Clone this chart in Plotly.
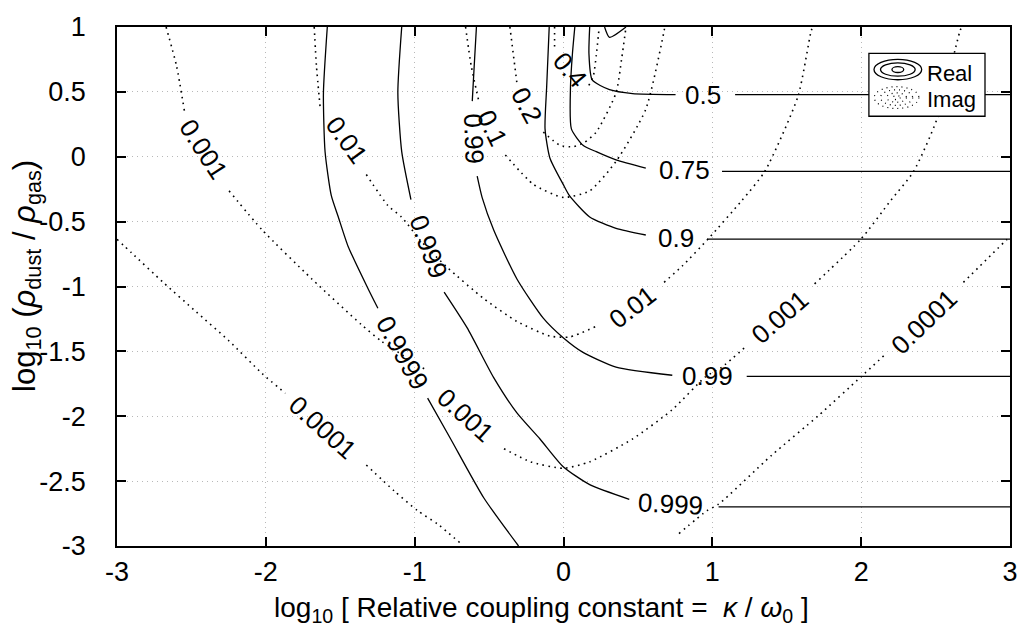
import plotly.graph_objects as go

# ---------------- data ----------------
# Real-part contours (solid)
re_levels = ["0.5", "0.75", "0.9", "0.99", "0.999", "0.9999"]
re_05_x = [0.176, 0.171, 0.193, 0.309, 0.464, 0.753, None, 1.153, 3.0, None, 0.276, 0.309, 0.42]
re_05_y = [1.0, 0.794, 0.592, 0.517, 0.487, 0.479, None, 0.479, 0.479, None, 1.0, 0.92, 1.0]
re_075_x = [0.076, 0.060, 0.047, 0.053, 0.131, 0.22, 0.353, 0.553, None, 1.065, 3.0]
re_075_y = [1.0, 0.794, 0.542, 0.215, 0.089, 0.039, -0.024, -0.087, None, -0.112, -0.112]
re_09_x = [-0.096, -0.113, -0.124, -0.091, -0.002, 0.04, 0.176, 0.353, 0.553, None, 0.964, 3.0]
re_09_y = [1.0, 0.542, 0.215, -0.011, -0.213, -0.3, -0.464, -0.552, -0.603, None, -0.635, -0.635]
re_099_x = [-0.585, -0.6, -0.613, None, -0.58, -0.547, -0.469, -0.313, -0.136, -0.002, 0.131, 0.353, 0.731, None, 1.231, 3.0]
re_099_y = [1.0, 0.7, 0.429, None, -0.150, -0.313, -0.565, -0.942, -1.244, -1.395, -1.508, -1.621, -1.684, None, -1.692, -1.692]
re_0999_x = [-1.087, -1.113, -1.087, -1.025, None, -0.802, -0.647, -0.47, -0.313, -0.158, -0.002, 0.176, 0.442, None, 1.042, 3.0]
re_0999_y = [1.0, 0.492, 0.039, -0.33, None, -1.043, -1.319, -1.70, -1.974, -2.175, -2.389, -2.527, -2.64, None, -2.698, -2.698]
re_09999_x = [-1.587, -1.613, -1.602, -1.56, -1.513, -1.447, -1.313, -1.247, None, -0.913, -0.758, -0.536, -0.302]
re_09999_y = [1.0, 0.492, 0.039, -0.3, -0.464, -0.691, -1.017, -1.168, None, -1.86, -2.175, -2.628, -3.0]

# Imaginary-part contours (dotted)
im_04_x = [-0.06, -0.06, None, 0.17, 0.2, 0.22, 0.24]
im_04_y = [1.0, 0.82, None, 0.55, 0.62, 0.78, 1.0]
im_02_x = [-0.36, -0.313, None, -0.136, -0.024, 0.064, 0.14, 0.22, 0.353, 0.39, 0.42]
im_02_y = [1.0, 0.567, None, 0.19, 0.089, 0.077, 0.11, 0.19, 0.492, 0.75, 1.0]
im_01_x = [-0.658, -0.62, -0.569, None, -0.391, -0.202, -0.002, 0.176, 0.353, 0.553, 0.676, 0.68]
im_01_y = [1.0, 0.7, 0.429, None, 0.014, -0.213, -0.313, -0.263, -0.036, 0.366, 0.97, 1.0]
im_001_x = [-1.675, -1.66, -1.634, None, -1.325, -1.18, -1.089, -0.95, -0.78, -0.536, -0.313, -0.091, 0.042, 0.22,
            None, 0.676, 0.798, 0.976, 1.198, 1.353, 1.576, 1.664, 1.675]
im_001_y = [1.0, 0.7, 0.366, None, -0.137, -0.376, -0.464, -0.66, -0.854, -1.093, -1.269, -1.382, -1.389, -1.307,
            None, -0.968, -0.842, -0.628, -0.338, -0.112, 0.467, 0.97, 1.0]
im_0001_x = [-2.67, -2.6, -2.547, None, -2.247, -2.024, -1.691, -1.358, -1.225, -0.913, None, -0.4, -0.222, -0.002,
             0.176, 0.464, 0.731, 0.953, 1.064, 1.231, None, 1.687, 1.998, 2.198, 2.353, 2.509, 2.664, 2.675]
im_0001_y = [1.0, 0.7, 0.353, None, -0.263, -0.565, -0.942, -1.294, -1.42, -1.651, None, -2.25, -2.351, -2.401,
             -2.351, -2.175, -1.949, -1.697, -1.621, -1.457, None, -0.98, -0.635, -0.338, -0.112, 0.29, 0.97, 1.0]
im_00001_x = [-3.0, -2.902, -2.69, -2.469, -2.247, -2.024, -1.869, None, -1.325, -1.136, -0.98, -0.847, -0.691,
              None, 0.776, 0.964, 1.042, 1.398, 1.709, 1.998, 2.164, None, 2.687, 2.976, 3.0]
im_00001_y = [-0.636, -0.741, -0.968, -1.194, -1.42, -1.672, -1.823, None, -2.376, -2.577, -2.728, -2.83, -2.98,
              None, -2.904, -2.728, -2.678, -2.301, -1.999, -1.697, -1.521, None, -0.968, -0.641, -0.615]

# Contour labels
label_text = ["0.5", "0.75", "0.9", "0.99", "0.999", "0.99", "0.999", "0.9999",
              "0.4", "0.2", "0.1", "0.01", "0.01", "0.001", "0.001", "0.001", "0.0001", "0.0001"]
label_x = [0.94, 0.815, 0.753, 0.97, 0.717, -0.60, -0.91, -1.08,
           0.045, -0.247, -0.48, -1.458, 0.464, -2.42, -0.66, 1.453, -1.613, 2.42]
label_y = [0.479, -0.10, -0.628, -1.69, -2.678, 0.14, -0.69, -1.51,
           0.67, 0.40, 0.22, 0.127, -1.156, 0.06, -1.99, -1.232, -2.087, -1.27]
label_angle = [0, 0, 0, 0, 3, 88, 70, 61,
               50, 62, 64, 54, -38, 57, 42, -41, 42, -44]

x_ticks = [-3, -2, -1, 0, 1, 2, 3]
x_ticktext = ["-3", "-2", "-1", "0", "1", "2", "3"]
y_ticks = [1, 0.5, 0, -0.5, -1, -1.5, -2, -2.5, -3]
y_ticktext = ["1", "0.5", "0", "-0.5", "-1", "-1.5", "-2", "-2.5", "-3"]

# ---------------- figure ----------------
FONT = "Liberation Sans, Arial, Helvetica, sans-serif"
fig = go.Figure()

real_lines = [(re_05_x, re_05_y), (re_075_x, re_075_y), (re_09_x, re_09_y),
              (re_099_x, re_099_y), (re_0999_x, re_0999_y), (re_09999_x, re_09999_y)]
imag_lines = [(im_04_x, im_04_y), (im_02_x, im_02_y), (im_01_x, im_01_y),
              (im_001_x, im_001_y), (im_0001_x, im_0001_y), (im_00001_x, im_00001_y)]

for xs, ys in imag_lines:
    fig.add_trace(go.Scatter(x=xs, y=ys, mode="lines", showlegend=False, hoverinfo="skip",
                             line=dict(color="black", width=1.6, dash="1.6px,4.4px", shape="spline",
                                       smoothing=0.6), connectgaps=False))
for xs, ys in real_lines:
    fig.add_trace(go.Scatter(x=xs, y=ys, mode="lines", showlegend=False, hoverinfo="skip",
                             line=dict(color="black", width=1.3, shape="spline", smoothing=0.6),
                             connectgaps=False))

for t, lx, ly, ang in zip(label_text, label_x, label_y, label_angle):
    fig.add_annotation(x=lx, y=ly, text=t, showarrow=False, textangle=ang,
                       font=dict(family=FONT, size=26, color="black"),
                       xanchor="center", yanchor="middle")

axis_common = dict(showline=True, linecolor="black", linewidth=1.5, mirror="allticks",
                   ticks="inside", ticklen=9, tickwidth=1.5, tickcolor="black",
                   showgrid=True, gridcolor="#b8b8b8", griddash="1px,4px", gridwidth=1,
                   zeroline=False, tickfont=dict(family=FONT, size=27, color="black"))

fig.update_xaxes(range=[-3, 3], tickmode="array", tickvals=x_ticks, ticktext=x_ticktext,
                 ticklabelstandoff=1, **axis_common)
fig.update_yaxes(range=[-3, 1], tickmode="array", tickvals=y_ticks, ticktext=y_ticktext,
                 ticklabelstandoff=24, **axis_common)

# axis titles
fig.add_annotation(xref="paper", yref="paper", x=0.475, y=-0.122,
                   text="log<sub>10</sub> [ Relative coupling constant =\u00a0 <i>κ</i> / <i>ω</i><sub>0</sub> ]",
                   showarrow=False, xanchor="center", yanchor="middle",
                   font=dict(family=FONT, size=28, color="black"))
fig.add_annotation(xref="paper", yref="paper", x=-0.101, y=0.52,
                   text="log<sub>10</sub> (<i>ρ</i><sub>dust</sub> / <i>ρ</i><sub>gas</sub>)",
                   showarrow=False, textangle=-90, xanchor="center", yanchor="middle",
                   font=dict(family=FONT, size=31, color="black"))

# custom legend box
shapes = [dict(type="rect", xref="paper", yref="paper", x0=0.842, x1=0.972, y0=0.828, y1=0.949,
               line=dict(color="black", width=1.3), fillcolor="white", layer="above")]
cx, cy = 0.8744, 0.918
for rx, ry in [(0.0267, 0.0196), (0.0194, 0.0128), (0.0066, 0.0057)]:
    shapes.append(dict(type="circle", xref="paper", yref="paper", x0=cx - rx, x1=cx + rx,
                       y0=cy - ry, y1=cy + ry, line=dict(color="black", width=1.3), layer="above"))
cx2, cy2 = 0.873, 0.864
for rx, ry in [(0.025, 0.021), (0.018, 0.015), (0.011, 0.009), (0.004, 0.004)]:
    shapes.append(dict(type="circle", xref="paper", yref="paper", x0=cx2 - rx, x1=cx2 + rx,
                       y0=cy2 - ry, y1=cy2 + ry,
                       line=dict(color="black", width=1.2, dash="1px,4px"), layer="above"))
fig.update_layout(shapes=shapes)
fig.add_annotation(xref="paper", yref="paper", x=0.905, y=0.911, text="Real", showarrow=False,
                   xanchor="left", yanchor="middle", font=dict(family=FONT, size=22, color="black"))
fig.add_annotation(xref="paper", yref="paper", x=0.905, y=0.860, text="Imag", showarrow=False,
                   xanchor="left", yanchor="middle", font=dict(family=FONT, size=22, color="black"))

fig.update_layout(width=1030, height=637, margin=dict(l=117, r=13, t=16, b=91),
                  plot_bgcolor="white", paper_bgcolor="white", showlegend=False)

fig.write_html("out.html")
